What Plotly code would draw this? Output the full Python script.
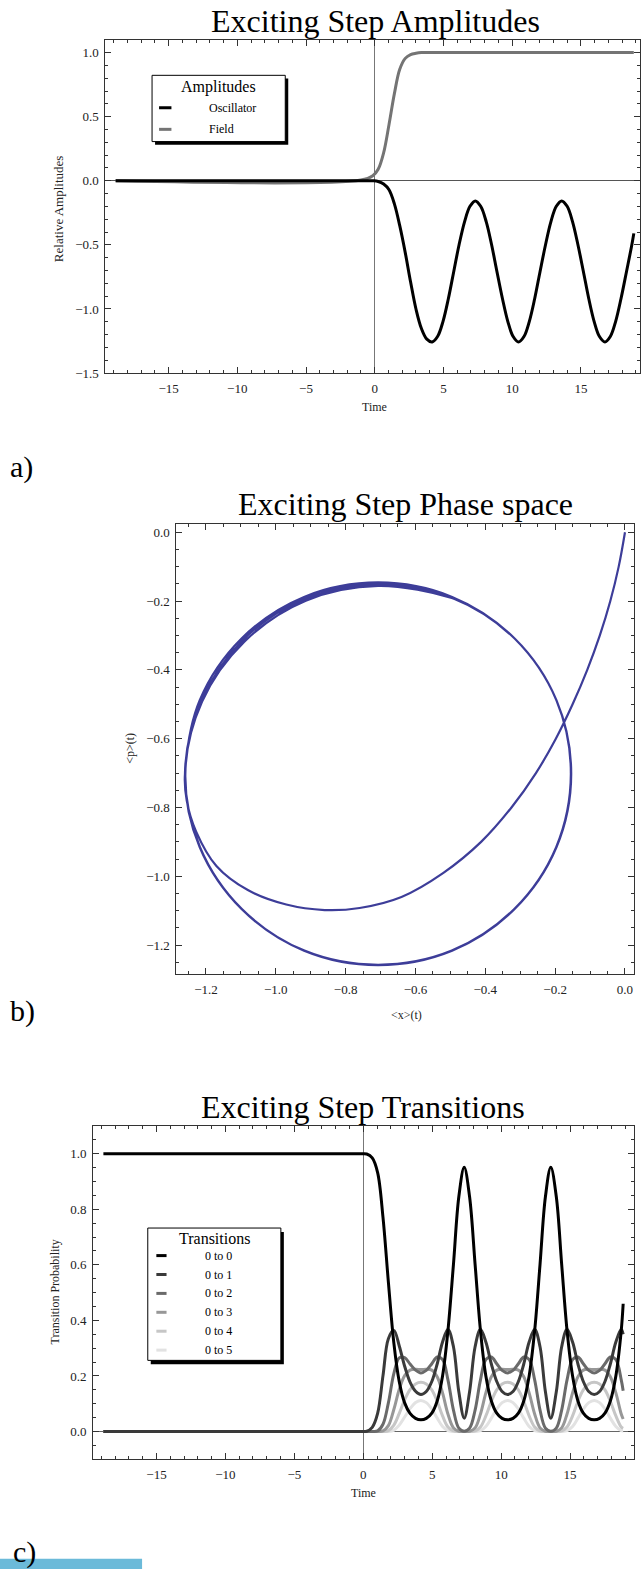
import plotly.graph_objects as go

W, H = 641, 1577
SERIF = "Liberation Serif"

# ---------------- data ----------------
TIME = [-18.85, -1.0, -0.14, 0.25, 0.65, 1.04, 1.43, 1.82, 2.22, 2.61, 3.0, 3.39, 3.79,
        4.18, 4.57, 4.97, 5.36, 5.75, 6.14, 6.54, 6.93, 7.32, 7.71, 8.11, 8.50, 8.89,
        9.29, 9.68, 10.07, 10.46, 10.86, 11.25, 11.64, 12.03, 12.43, 12.82, 13.21,
        13.60, 14.00, 14.39, 14.78, 15.18, 15.57, 15.96, 16.35, 16.75, 17.14, 17.53,
        17.92, 18.32, 18.71, 18.85]

OSCILLATOR = [0.0, 0.0, 0.0, -0.005, -0.025, -0.07, -0.18, -0.35, -0.56, -0.79, -1.0, -1.15, -1.235,
              -1.257, -1.215, -1.096, -0.918, -0.707, -0.497, -0.318, -0.199, -0.157, -0.199,
              -0.318, -0.497, -0.707, -0.918, -1.096, -1.215, -1.257, -1.215, -1.096, -0.918,
              -0.707, -0.497, -0.318, -0.199, -0.157, -0.199, -0.318, -0.497, -0.707, -0.918,
              -1.096, -1.215, -1.257, -1.215, -1.096, -0.918, -0.707, -0.497, -0.41]

FIELD = [0.0, 0.006, 0.04, 0.09, 0.22, 0.44, 0.68, 0.87, 0.955, 0.985, 0.995, 1.0, 1.0,
         1.0, 1.0, 1.0, 1.0, 1.0, 1.0, 1.0, 1.0, 1.0, 1.0, 1.0, 1.0, 1.0,
         1.0, 1.0, 1.0, 1.0, 1.0, 1.0, 1.0, 1.0, 1.0, 1.0, 1.0, 1.0, 1.0,
         1.0, 1.0, 1.0, 1.0, 1.0, 1.0, 1.0, 1.0, 1.0, 1.0, 1.0, 1.0, 1.0]

P00 = [1.0, 1.0, 1.0, 0.999, 0.985, 0.932, 0.771, 0.538, 0.317, 0.179, 0.103, 0.065, 0.047,
       0.042, 0.047, 0.066, 0.110, 0.200, 0.363, 0.602, 0.845, 0.951, 0.845, 0.602, 0.363, 0.200,
       0.110, 0.066, 0.047, 0.042, 0.047, 0.066, 0.110, 0.200, 0.363, 0.602, 0.845, 0.951,
       0.845, 0.602, 0.363, 0.200, 0.110, 0.066, 0.047, 0.042, 0.047, 0.066, 0.110, 0.200,
       0.363, 0.46]
P01 = [0.0, 0.0, 0.0, 0.001, 0.015, 0.065, 0.201, 0.334, 0.364, 0.308, 0.235, 0.178, 0.145,
       0.133, 0.144, 0.180, 0.243, 0.322, 0.368, 0.305, 0.143, 0.048, 0.143, 0.305, 0.368, 0.322,
       0.243, 0.180, 0.144, 0.133, 0.144, 0.180, 0.243, 0.322, 0.368, 0.305, 0.143, 0.048,
       0.143, 0.305, 0.368, 0.322, 0.243, 0.180, 0.144, 0.133, 0.144, 0.180, 0.243, 0.322,
       0.368, 0.35]
P02 = [0.0, 0.0, 0.0, 0.0, 0.0, 0.002, 0.026, 0.103, 0.209, 0.265, 0.266, 0.243, 0.221,
       0.211, 0.220, 0.244, 0.268, 0.259, 0.186, 0.077, 0.012, 0.001, 0.012, 0.077, 0.186, 0.259,
       0.268, 0.244, 0.220, 0.211, 0.220, 0.244, 0.268, 0.259, 0.186, 0.077, 0.012, 0.001,
       0.012, 0.077, 0.186, 0.259, 0.268, 0.244, 0.220, 0.211, 0.220, 0.244, 0.268, 0.259,
       0.186, 0.147]
P03 = [0.0, 0.0, 0.0, 0.0, 0.0, 0.0, 0.002, 0.021, 0.080, 0.152, 0.201, 0.221, 0.224,
       0.223, 0.224, 0.221, 0.197, 0.139, 0.063, 0.013, 0.001, 0.0, 0.001, 0.013, 0.063, 0.139,
       0.197, 0.221, 0.224, 0.223, 0.224, 0.221, 0.197, 0.139, 0.063, 0.013, 0.001, 0.0,
       0.001, 0.013, 0.063, 0.139, 0.197, 0.221, 0.224, 0.223, 0.224, 0.221, 0.197, 0.139,
       0.063, 0.045]
P04 = [0.0, 0.0, 0.0, 0.0, 0.0, 0.0, 0.0, 0.003, 0.023, 0.065, 0.114, 0.151, 0.171,
       0.177, 0.171, 0.150, 0.109, 0.056, 0.016, 0.002, 0.0, 0.0, 0.0, 0.002, 0.016, 0.056,
       0.109, 0.150, 0.171, 0.177, 0.171, 0.150, 0.109, 0.056, 0.016, 0.002, 0.0, 0.0,
       0.0, 0.002, 0.016, 0.056, 0.109, 0.150, 0.171, 0.177, 0.171, 0.150, 0.109, 0.056,
       0.016, 0.011]
P05 = [0.0, 0.0, 0.0, 0.0, 0.0, 0.0, 0.0, 0.0, 0.005, 0.023, 0.052, 0.082, 0.104,
       0.112, 0.104, 0.081, 0.048, 0.018, 0.003, 0.0, 0.0, 0.0, 0.0, 0.0, 0.003, 0.018,
       0.048, 0.081, 0.104, 0.112, 0.104, 0.081, 0.048, 0.018, 0.003, 0.0, 0.0, 0.0,
       0.0, 0.0, 0.003, 0.018, 0.048, 0.081, 0.104, 0.112, 0.104, 0.081, 0.048, 0.018,
       0.003, 0.002]

TRANSITIONS = [P00, P01, P02, P03, P04, P05]
TRANS_LABELS = ["0 to 0", "0 to 1", "0 to 2", "0 to 3", "0 to 4", "0 to 5"]
TRANS_COLORS = ["#000000", "#3a3a3a", "#6a6a6a", "#979797", "#c6c6c6", "#e2e2e2"]

AMP_LABELS = ["Oscillator", "Field"]
AMP_COLORS = ["#000000", "#747474"]

# phase space trajectory  (<x>(t), <p>(t))
PHASE_X = [0.000, -0.018, -0.042, -0.072, -0.108, -0.150, -0.198, -0.255, -0.325, -0.412,
           -0.520, -0.640, -0.760, -0.860, -0.970, -1.080, -1.170, -1.228, -1.255, -1.260,
           -1.218, -1.098, -0.919, -0.707, -0.495, -0.316, -0.196, -0.154, -0.196, -0.316,
           -0.495, -0.707, -0.919, -1.098, -1.218, -1.260,
           -1.213, -1.094, -0.917, -0.707, -0.496, -0.316, -0.196, -0.155, -0.197, -0.317,
           -0.496, -0.707, -0.918, -1.097, -1.217, -1.259,
           -1.211, -1.090, -0.914, -0.707, -0.496, -0.426]
PHASE_P = [0.000, -0.100, -0.200, -0.300, -0.400, -0.500, -0.600, -0.700, -0.800, -0.900,
           -0.990, -1.060, -1.092, -1.098, -1.082, -1.040, -0.970, -0.870, -0.780, -0.702,
           -0.489, -0.309, -0.188, -0.146, -0.188, -0.309, -0.489, -0.702, -0.915, -1.095,
           -1.216, -1.258, -1.216, -1.095, -0.915, -0.702,
           -0.491, -0.313, -0.194, -0.151, -0.190, -0.309, -0.489, -0.703, -0.915, -1.095,
           -1.216, -1.257, -1.216, -1.095, -0.915, -0.703,
           -0.492, -0.318, -0.199, -0.156, -0.191, -0.224]
PHASE_COLOR = "#3d3d99"


# ---------------- helpers (pixel -> paper) ----------------
def X(px):
    return px / W


def Y(py):
    return 1 - py / H


fig = go.Figure()

# panel a
for name, col, vals in zip(AMP_LABELS[::-1], AMP_COLORS[::-1], [FIELD, OSCILLATOR]):
    fig.add_trace(go.Scatter(x=TIME, y=vals, name=name, mode="lines",
                             line=dict(color=col, width=3, shape="spline"),
                             xaxis="x", yaxis="y", showlegend=False, hoverinfo="skip"))
# panel b
fig.add_trace(go.Scatter(x=PHASE_X, y=PHASE_P, mode="lines", name="phase",
                         line=dict(color=PHASE_COLOR, width=2.2, shape="spline"),
                         xaxis="x2", yaxis="y2", showlegend=False, hoverinfo="skip"))
# panel c (draw 0 to 5 first, 0 to 0 on top)
for name, col, vals in list(zip(TRANS_LABELS, TRANS_COLORS, TRANSITIONS))[::-1]:
    fig.add_trace(go.Scatter(x=TIME, y=vals, name=name, mode="lines",
                             line=dict(color=col, width=3, shape="spline"),
                             xaxis="x3", yaxis="y3", showlegend=False, hoverinfo="skip"))

FRAME = "#333333"


def ax(**kw):
    d = dict(showline=True, linecolor=FRAME, linewidth=1, mirror="ticks",
             ticks="inside", ticklen=6, tickwidth=1, tickcolor=FRAME,
             showgrid=False, zeroline=False, ticklabelstandoff=3,
             tickfont=dict(family=SERIF, size=13, color="#222222"),
             minor=dict(ticks="inside", ticklen=3, tickwidth=1, tickcolor=FRAME, showgrid=False))
    minor_dtick = kw.pop("minor_dtick")
    d.update(kw)
    d["minor"]["dtick"] = minor_dtick
    return d


fig.update_layout(
    width=W, height=H, margin=dict(l=0, r=0, t=0, b=0),
    paper_bgcolor="white", plot_bgcolor="white", showlegend=False,
    xaxis=ax(domain=[X(105.5), 1.0], range=[-19.6, 19.3], tick0=0, dtick=5, minor_dtick=1,
             anchor="y", zeroline=True, zerolinecolor="#777777", zerolinewidth=1.2),
    yaxis=ax(domain=[Y(375), Y(40)], range=[-1.5, 1.1], tick0=0, dtick=0.5, minor_dtick=0.1,
             tickformat=".1f", anchor="x", zeroline=True, zerolinecolor="#555555", zerolinewidth=1.2),
    xaxis2=ax(domain=[X(176.7), X(635.4)], range=[-1.2845, 0.027], tick0=0, dtick=0.2,
              minor_dtick=0.05, tickformat=".1f", anchor="y2"),
    yaxis2=ax(domain=[Y(979), Y(526.3)], range=[-1.284, 0.025], tick0=0, dtick=0.2,
              minor_dtick=0.05, tickformat=".1f", anchor="x2"),
    xaxis3=ax(domain=[X(93.2), X(634.5)], range=[-19.6, 19.6], tick0=0, dtick=5, minor_dtick=1,
              anchor="y3", zeroline=True, zerolinecolor="#777777", zerolinewidth=1.2),
    yaxis3=ax(domain=[Y(1466.7), Y(1131.7)], range=[-0.1, 1.1], tick0=0, dtick=0.2,
              minor_dtick=0.05, tickformat=".1f", anchor="x3",
              zeroline=True, zerolinecolor="#666666", zerolinewidth=1),
)

ann = []
shapes = []


def text(t, px, py, size, xanchor="center", angle=0, color="#000000"):
    ann.append(dict(text=t, x=X(px), y=Y(py), xref="paper", yref="paper",
                    xanchor=xanchor, yanchor="middle", showarrow=False, textangle=angle,
                    font=dict(family=SERIF, size=size, color=color)))


# chart titles (mid = baseline - 0.3375*size)
text("Exciting Step Amplitudes", 376, 32.3 - 10.8, 32)
text("Exciting Step Phase space", 406.4, 517.5 - 10.8, 32)
text("Exciting Step Transitions", 363.6, 1123.3 - 10.8, 32)

# axis titles
text("Time", 375.3, 409, 12, color="#222222")
text("Relative Amplitudes", 59.3, 210, 13, angle=-90, color="#222222")
text("&lt;x&gt;(t)", 406.8, 1020, 12, color="#222222")
text("&lt;p&gt;(t)", 130.8, 752, 12, angle=-90, color="#222222")
text("Time", 363.9, 1500.7, 12, color="#222222")
text("Transition Probability", 55.2, 1299, 12, angle=-90, color="#222222")

# panel labels
text("a)", 8, 469, 30, xanchor="left")
text("b)", 8, 1016, 30, xanchor="left")
text("c)", 11, 1560.4, 30, xanchor="left")


def legend_box(x0, y0, x1, y1, dx, dy):
    shapes.append(dict(type="rect", xref="paper", yref="paper",
                       x0=X(x0 + dx), x1=X(x1 + dx), y0=Y(y1 + dy), y1=Y(y0 + dy),
                       fillcolor="#000000", line=dict(width=0), layer="above"))
    shapes.append(dict(type="rect", xref="paper", yref="paper",
                       x0=X(x0), x1=X(x1), y0=Y(y1), y1=Y(y0),
                       fillcolor="#ffffff", line=dict(color="#000000", width=1), layer="above"))


def sample(x0, x1, py, color):
    shapes.append(dict(type="line", xref="paper", yref="paper",
                       x0=X(x0), x1=X(x1), y0=Y(py), y1=Y(py),
                       line=dict(color=color, width=3), layer="above"))


# legend a
legend_box(152.3, 75.7, 285.7, 142.3, 3, 3.3)
text("Amplitudes", 218.8, 87.6, 16)
for i, (lab, col) in enumerate(zip(AMP_LABELS, AMP_COLORS)):
    yy = 108.3 + i * 21.7
    sample(159.3, 171.7, yy, col)
    text(lab, 207.3, yy, 12, xanchor="left")

# legend c
legend_box(148.0, 1234.3, 281.3, 1367.3, 3, 4)
text("Transitions", 215.0, 1244.6, 16)
for i, (lab, col) in enumerate(zip(TRANS_LABELS, TRANS_COLORS)):
    yy = 1262 + i * 19
    sample(156.6, 166.8, yy, col)
    text(lab, 203.6, yy, 12, xanchor="left")

# decorative strip at bottom-left
shapes.append(dict(type="rect", xref="paper", yref="paper", x0=0, x1=X(142.3),
                   y0=0, y1=Y(1566.7), fillcolor="#6bbad9", line=dict(width=0), layer="above"))

fig.update_layout(annotations=ann, shapes=shapes)
fig.write_html("out.html", config={"displayModeBar": False},
               post_script="document.body.style.margin='0';document.body.style.overflow='hidden';")
